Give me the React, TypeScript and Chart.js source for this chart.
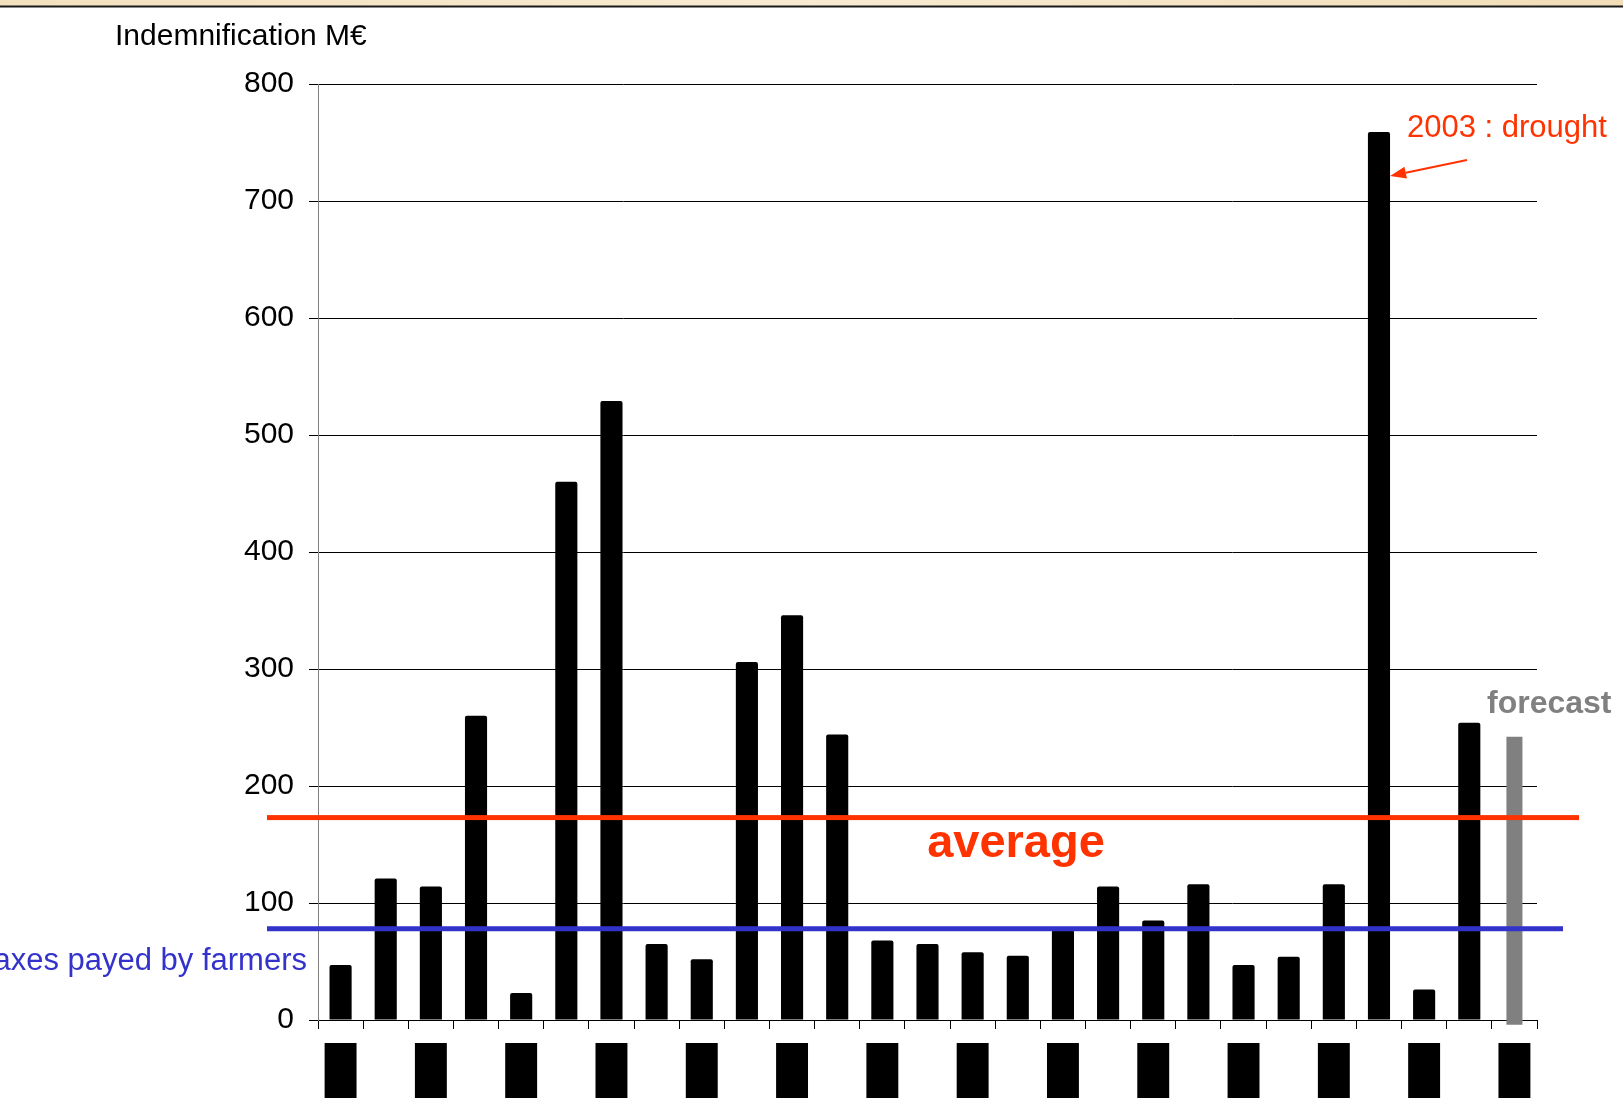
import React, { useEffect, useRef } from 'react';
import { Chart, registerables } from 'chart.js';

Chart.register(...registerables);

const years = [
  '1980', '1981', '1982', '1983', '1984', '1985', '1986', '1987', '1988', '1989',
  '1990', '1991', '1992', '1993', '1994', '1995', '1996', '1997', '1998', '1999',
  '2000', '2001', '2002', '2003', '2004', '2005', '2006',
];

const indemnification = [
  47, 121, 114, 260, 23, 460, 529, 65, 52, 306,
  346, 244, 68, 65, 58, 55, 77, 114, 85, 116,
  47, 54, 116, 759, 26, 254, null,
];

const forecast = [
  null, null, null, null, null, null, null, null, null, null,
  null, null, null, null, null, null, null, null, null, null,
  null, null, null, null, null, null, 242,
];
const forecastBase = -4;

const averageValue = 173;
const taxesValue = 78;

const yMin = 0;
const yMax = 800;
const yStep = 100;

const RED = '#FF3300';
const BLUE = '#3333CC';
const GRAY = '#808080';
const FONT = "'Liberation Sans', Arial, sans-serif";

const annotationsPlugin = {
  id: 'annotations',
  beforeDraw(chart: any) {
    const ctx = chart.ctx;
    ctx.save();
    const g = ctx.createLinearGradient(0, 0, chart.width, 0);
    g.addColorStop(0, '#F3E1BE');
    g.addColorStop(0.5, '#F8EBD2');
    g.addColorStop(1, '#F1DDB7');
    ctx.fillStyle = g;
    ctx.fillRect(0, 0, chart.width, 6);
    ctx.fillStyle = '#1a1a1a';
    ctx.fillRect(0, 5.5, chart.width, 2);
    ctx.restore();
  },
  afterDatasetsDraw(chart: any) {
    const ctx = chart.ctx;
    const y = chart.scales.y;
    ctx.save();

    // average line
    const ya = y.getPixelForValue(averageValue);
    ctx.fillStyle = RED;
    ctx.fillRect(267, ya - 2.5, 1579 - 267, 5);

    // taxes line
    const yt = y.getPixelForValue(taxesValue);
    ctx.fillStyle = BLUE;
    ctx.fillRect(267, yt - 2.5, 1563 - 267, 5);

    // texts
    ctx.textBaseline = 'alphabetic';
    ctx.fillStyle = '#000';
    ctx.font = `30px ${FONT}`;
    ctx.textAlign = 'left';
    ctx.fillText('Indemnification M€', 115, 45);

    ctx.fillStyle = RED;
    ctx.font = `bold 47px ${FONT}`;
    ctx.textAlign = 'center';
    ctx.fillText('average', 1016, 857);

    ctx.font = `31px ${FONT}`;
    ctx.textAlign = 'left';
    ctx.fillText('2003 : drought', 1407, 137);

    ctx.fillStyle = GRAY;
    ctx.font = `bold 32px ${FONT}`;
    ctx.fillText('forecast', 1487, 713);

    ctx.fillStyle = BLUE;
    ctx.font = `31px ${FONT}`;
    ctx.textAlign = 'right';
    ctx.fillText('Taxes payed by farmers', 307, 970);

    // arrow towards the 2003 bar
    const meta = chart.getDatasetMeta(0);
    const bar = meta.data[years.indexOf('2003')] as any;
    const tipX = bar.x + bar.width / 2;
    const tipY = 176;
    const fromX = 1467;
    const fromY = 160;
    const ang = Math.atan2(tipY - fromY, tipX - fromX);
    const headLen = 16;
    const headW = 6;
    const baseX = tipX - headLen * Math.cos(ang);
    const baseY = tipY - headLen * Math.sin(ang);
    ctx.strokeStyle = RED;
    ctx.lineWidth = 2;
    ctx.beginPath();
    ctx.moveTo(fromX, fromY);
    ctx.lineTo(baseX, baseY);
    ctx.stroke();
    ctx.fillStyle = RED;
    ctx.beginPath();
    ctx.moveTo(tipX, tipY);
    ctx.lineTo(baseX + headW * Math.sin(ang), baseY - headW * Math.cos(ang));
    ctx.lineTo(baseX - headW * Math.sin(ang), baseY + headW * Math.cos(ang));
    ctx.closePath();
    ctx.fill();

    ctx.restore();
  },
};

export default function App() {
  const ref = useRef<HTMLCanvasElement>(null);

  useEffect(() => {
    if (!ref.current) return;
    const chart = new Chart(ref.current, {
      type: 'bar',
      data: {
        labels: years,
        datasets: [
          {
            label: 'Indemnification',
            data: indemnification,
            backgroundColor: '#000000',
            borderWidth: 0,
            borderRadius: 2,
            borderSkipped: 'bottom',
            barPercentage: 0.49,
            categoryPercentage: 1,
            grouped: false,
          },
          {
            label: 'Forecast',
            data: forecast,
            base: forecastBase,
            backgroundColor: GRAY,
            borderWidth: 0,
            barPercentage: 0.355,
            categoryPercentage: 1,
            grouped: false,
            clip: false,
          } as any,
        ],
      },
      options: {
        animation: false,
        responsive: false,
        devicePixelRatio: 1,
        layout: { padding: { top: 84, right: 86, bottom: 0, left: 0 } },
        plugins: {
          legend: { display: false },
          tooltip: { enabled: false },
          title: { display: false },
        },
        scales: {
          x: {
            type: 'category',
            offset: true,
            afterFit: (s: any) => { s.height = 78; },
            grid: {
              offset: true,
              drawOnChartArea: false,
              drawTicks: true,
              tickLength: 9,
              color: '#000',
              lineWidth: 1,
            },
            border: { display: true, color: '#000', width: 1 },
            ticks: {
              autoSkip: false,
              maxRotation: 0,
              minRotation: 0,
              padding: 14,
              color: '#000',
              font: { family: FONT, size: 13 },
              callback: (_v: any, i: number) => (i % 2 === 0 ? years[i] : ''),
              showLabelBackdrop: true,
              backdropColor: (c: any) => (c.index % 2 === 0 ? '#000' : 'rgba(0,0,0,0)'),
              backdropPadding: { top: 0, left: 1.5, right: 1.5, bottom: 90 },
            },
          },
          y: {
            min: yMin,
            max: yMax,
            afterFit: (s: any) => { s.width = 318; },
            grid: {
              color: '#000',
              lineWidth: 1,
              drawTicks: true,
              tickLength: 9,
            },
            border: { display: true, color: GRAY, width: 1 },
            ticks: {
              stepSize: yStep,
              padding: 15,
              color: '#000',
              font: { family: FONT, size: 30 },
            },
          },
        },
      },
      plugins: [annotationsPlugin],
    } as any);
    return () => chart.destroy();
  }, []);

  return (
    <div style={{ position: 'absolute', left: 0, top: 0, width: 1623, height: 1098, background: '#fff' }}>
      <canvas ref={ref} width={1623} height={1098} style={{ display: 'block', width: 1623, height: 1098 }} />
    </div>
  );
}
